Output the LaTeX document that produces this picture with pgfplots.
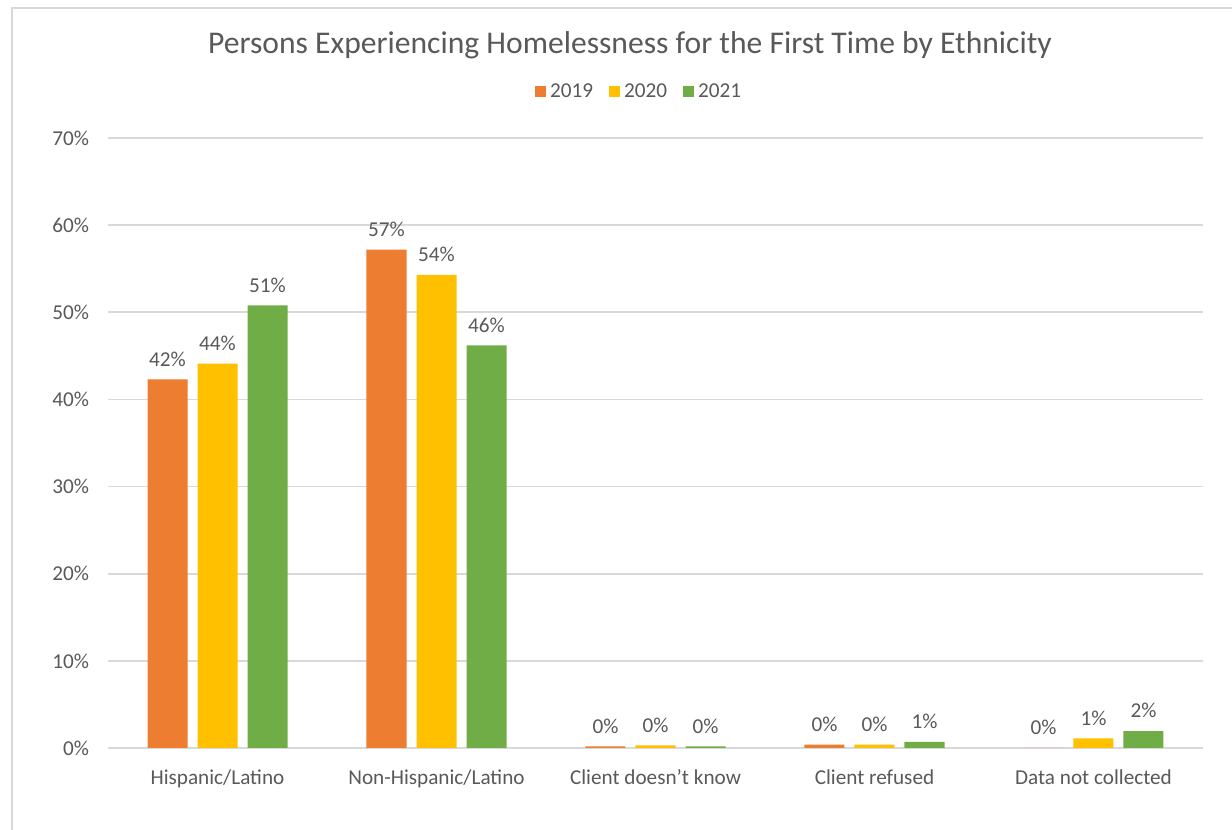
\documentclass[border=0pt]{standalone}
\usepackage{fontspec}
\setmainfont{Carlito}
\usepackage{pgfplots}
\pgfplotsset{compat=1.18}
\definecolor{cOrange}{HTML}{ED7D31}
\definecolor{cYellow}{HTML}{FFC000}
\definecolor{cGreen}{HTML}{70AD47}
\definecolor{cText}{HTML}{595959}
\definecolor{cGrid}{HTML}{D9D9D9}
\begin{document}
\begin{tikzpicture}[x=1pt,y=1pt]
\useasboundingbox (0,0) rectangle (616,415);
\fill[white] (0,0) rectangle (616,415);
\draw[cGrid, line width=1pt] (6,0) -- (6,411) -- (616,411);
\node[text=cText, font=\fontsize{15.8}{18}\selectfont] at (315,392.5) {Persons Experiencing Homelessness for the First Time by Ethnicity};
\begin{axis}[
  at={(54pt,41pt)}, anchor=south west,
  scale only axis, width=547.5pt, height=305pt,
  /pgf/number format/assume math mode=true,
  ybar, bar width=20pt,
  xmin=-0.5, xmax=4.5, ymin=0, ymax=70,
  xtick={0,1,2,3,4},
  xticklabels={Hispanic/Latino,Non-Hispanic/Latino,Client doesn't know,Client refused,Data not collected},
  ytick={0,10,...,70},
  yticklabel={\pgfmathprintnumber{\tick}\%},
  ymajorgrids, grid style={cGrid, line width=0.8pt},
  axis line style={draw=none}, major tick style={draw=none},
  tick label style={text=cText, font=\fontsize{10.6}{12}\selectfont},
  xticklabel style={yshift=-3pt},
  yticklabel style={xshift=-6pt},
  nodes near coords={\pgfmathprintnumber[fixed,precision=0]{\pgfplotspointmeta}\%},
  every node near coord/.append style={text=cText, font=\fontsize{10.6}{12}\selectfont, yshift=3pt},
  legend columns=3,
  legend style={at={(0.486,1.076)}, anchor=center, draw=none, fill=none,
    font=\fontsize{10.6}{12}\selectfont, text=cText,
    /tikz/every even column/.append style={column sep=6pt}},
  legend image code/.code={\fill[#1] (0pt,-2.75pt) rectangle (5.5pt,2.75pt);},
]
\addplot[draw=none, fill=cOrange, bar shift=-25pt] coordinates {(0,42.3) (1,57.2) (2,0.2) (3,0.4) (4,0.0)};
\addplot[draw=none, fill=cYellow, bar shift=0pt] coordinates {(0,44.1) (1,54.3) (2,0.3) (3,0.4) (4,1.1)};
\addplot[draw=none, fill=cGreen, bar shift=25pt] coordinates {(0,50.8) (1,46.2) (2,0.2) (3,0.7) (4,1.95)};
\legend{2019,2020,2021}
\end{axis}
\end{tikzpicture}
\end{document}
